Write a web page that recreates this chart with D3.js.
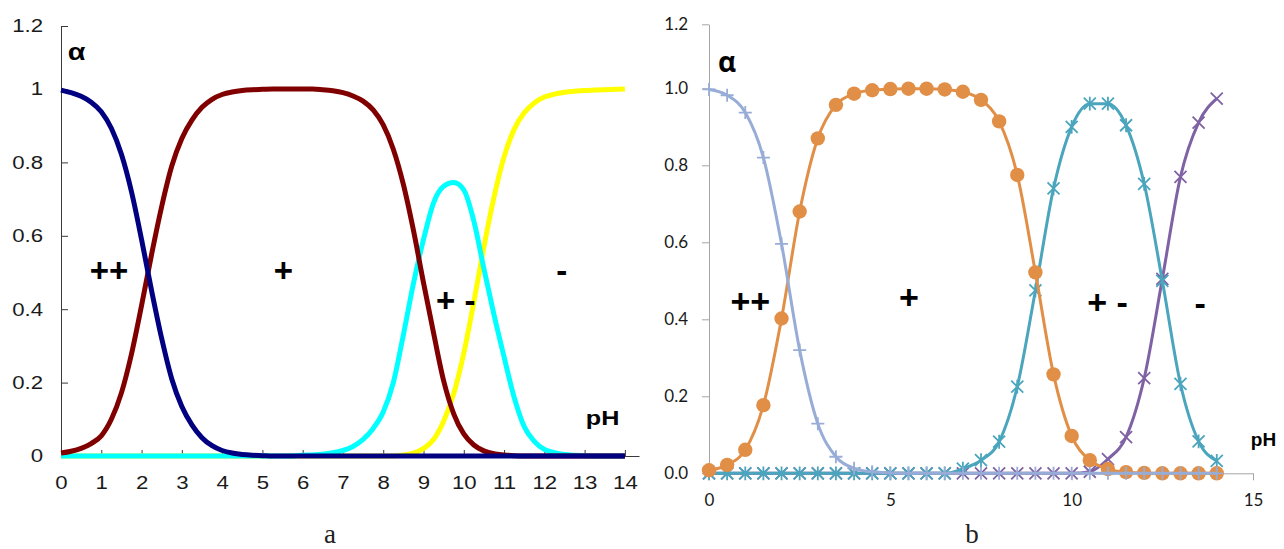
<!DOCTYPE html>
<html lang="en">
<head>
<meta charset="UTF-8">
<title>Species fractions vs pH</title>
<script src="https://d3js.org/d3.v7.min.js"></script>
<style>
  body { margin: 0; background: #fff; }
  svg { display: block; }
  .a-axis text { font-family: "Liberation Sans", Arial, sans-serif; font-size: 18.5px; fill: #1a1a1a; }
  .a-axis path, .a-axis line { stroke: #3a3a3a; }
  .b-axis text { font-family: Lato, "Open Sans", sans-serif; font-size: 17px; fill: #1a1a1a; }
  .b-axis path, .b-axis line { stroke: #a6a6a6; }
  .region { font-family: "Liberation Sans", Arial, sans-serif; font-weight: bold; fill: #000; }
  .caption { font-family: "Liberation Serif", "DejaVu Serif", serif; font-size: 27px; fill: #222; }
</style>
</head>
<body>
<script>
// ---- panel a: pH grid (0.25 step) and fractions
const pHA = [0, 0.25, 0.5, 0.75, 1, 1.25, 1.5, 1.75, 2, 2.25, 2.5, 2.75, 3, 3.25, 3.5, 3.75,
  4, 4.25, 4.5, 4.75, 5, 5.25, 5.5, 5.75, 6, 6.25, 6.5, 6.75, 7, 7.25, 7.5, 7.75,
  8, 8.25, 8.5, 8.75, 9, 9.25, 9.5, 9.75, 10, 10.25, 10.5, 10.75, 11, 11.25, 11.5, 11.75,
  12, 12.25, 12.5, 12.75, 13, 13.25, 13.5, 13.75, 14];
const dicationA = [0.997, 0.99, 0.98, 0.964, 0.938, 0.893, 0.822, 0.72, 0.59, 0.45, 0.32, 0.21,
  0.135, 0.085, 0.05, 0.028, 0.015, 0.008, 0.004, 0.002, 0.001,
  0, 0, 0, 0, 0, 0, 0, 0, 0, 0, 0, 0, 0, 0, 0, 0, 0, 0, 0, 0, 0, 0, 0, 0, 0, 0, 0, 0, 0, 0, 0, 0, 0, 0, 0, 0];
const cationA = [0.008, 0.013, 0.021, 0.034, 0.055, 0.1, 0.172, 0.278, 0.41, 0.55, 0.68, 0.79,
  0.865, 0.915, 0.95, 0.972, 0.985, 0.992, 0.996, 0.998, 0.999, 1, 1, 1, 1, 1, 0.998, 0.995,
  0.99, 0.981, 0.967, 0.943, 0.902, 0.836, 0.74, 0.615, 0.472, 0.335, 0.205, 0.115,
  0.06, 0.03, 0.014, 0.006, 0.003, 0.001, 0, 0, 0, 0, 0, 0, 0, 0, 0, 0, 0];
const zwitterA = [0, 0, 0, 0, 0, 0, 0, 0, 0, 0, 0, 0, 0, 0, 0, 0, 0, 0, 0, 0, 0, 0, 0, 0,
  0.002, 0.003, 0.005, 0.009, 0.015, 0.026, 0.045, 0.075, 0.12, 0.2, 0.33, 0.47, 0.59, 0.69,
  0.735, 0.745, 0.725, 0.64, 0.51, 0.385, 0.27, 0.16, 0.08, 0.04, 0.018, 0.009, 0.004, 0.002,
  0.001, 0, 0, 0, 0];
const anionA = [0, 0, 0, 0, 0, 0, 0, 0, 0, 0, 0, 0, 0, 0, 0, 0, 0, 0, 0, 0, 0, 0, 0, 0, 0, 0,
  0, 0, 0, 0, 0, 0, 0, 0,
  0.003, 0.008, 0.02, 0.045, 0.095, 0.17, 0.28, 0.42, 0.57, 0.705, 0.815, 0.89, 0.935, 0.962,
  0.978, 0.986, 0.991, 0.994, 0.996, 0.997, 0.998, 0.999, 1];

// ---- panel b: pH grid (0.5 step) and the plotted points
const pHB = [0, 0.5, 1, 1.5, 2, 2.5, 3, 3.5, 4, 4.5, 5, 5.5, 6, 6.5, 7, 7.5, 8, 8.5, 9, 9.5,
  10, 10.5, 11, 11.5, 12, 12.5, 13, 13.5, 14];
const dicationB = [0.997, 0.982, 0.937, 0.82, 0.596, 0.32, 0.129, 0.043, 0.013, 0.004, 0.001,
  0, 0, 0, 0, 0, 0, 0, 0, 0, 0, 0, 0, 0, 0, 0, 0, 0, 0];
const cationB = [0.008, 0.022, 0.061, 0.177, 0.402, 0.68, 0.87, 0.957, 0.986, 0.995, 0.998,
  0.999, 0.999, 0.997, 0.991, 0.97, 0.914, 0.775, 0.522, 0.257, 0.097, 0.034, 0.011, 0.003,
  0.001, 0, 0, 0, 0];
const zwitterB = [0, 0, 0, 0, 0, 0, 0, 0, 0, 0, 0, 0, 0, 0, 0.012, 0.034, 0.082, 0.225, 0.475,
  0.74, 0.9, 0.96, 0.96, 0.904, 0.752, 0.5, 0.232, 0.083, 0.032];
const anionB = [0, 0, 0, 0, 0, 0, 0, 0, 0, 0, 0, 0, 0, 0, 0, 0, 0, 0, 0, 0, 0, 0.004, 0.037,
  0.094, 0.247, 0.505, 0.77, 0.911, 0.973];

// tick values
const ticksAx = [0, 1, 2, 3, 4, 5, 6, 7, 8, 9, 10, 11, 12, 13, 14];
const ticksAy = [0, 0.2, 0.4, 0.6, 0.8, 1, 1.2];
const ticksBx = [0, 5, 10, 15];
const ticksBy = [0, 0.2, 0.4, 0.6, 0.8, 1.0, 1.2];

// charge labels (placed in data units)
const labelsA = [
  { t: '++', x: 1.19, y: 0.504 },
  { t: '+', x: 5.52, y: 0.504 },
  { t: '+ -', x: 9.8, y: 0.422 },
  { t: '-', x: 12.43, y: 0.504 }
];
const labelsB = [
  { t: '++', x: 1.14, y: 0.445 },
  { t: '+', x: 5.51, y: 0.455 },
  { t: '+ -', x: 10.99, y: 0.442 },
  { t: '-', x: 13.54, y: 0.44 }
];

const svg = d3.select('body').append('svg')
  .attr('width', 1284)
  .attr('height', 549);

// ================= panel a =================
const xA = d3.scaleLinear().domain([0, 14.35]).range([61, 639]);
const yA = d3.scaleLinear().domain([0, 1, 1.2]).range([456, 89, 26]);
const gA = svg.append('g');

gA.append('g')
  .attr('class', 'a-axis')
  .attr('transform', 'translate(0,456)')
  .call(d3.axisBottom(xA).tickValues(ticksAx).tickSizeInner(-6).tickSizeOuter(0).tickPadding(20).tickFormat(d3.format('d')))
  .call(g => g.selectAll('text').attr('transform', 'scale(1.2,1)'));

gA.append('g')
  .attr('class', 'a-axis')
  .attr('transform', 'translate(61,0)')
  .call(d3.axisLeft(yA).tickValues(ticksAy).tickSizeInner(-7).tickSizeOuter(0).tickPadding(15).tickFormat(d3.format('')))
  .call(g => g.selectAll('text').attr('transform', 'scale(1.2,1)'));

const lineA = d3.line().x(d => xA(d[0])).y(d => yA(d[1])).curve(d3.curveMonotoneX);
const seriesA = [
  { v: anionA, c: '#ffff00' },
  { v: zwitterA, c: '#00ffff' },
  { v: cationA, c: '#800000' },
  { v: dicationA, c: '#000080' }
];
seriesA.forEach(s => {
  gA.append('path')
    .datum(d3.zip(pHA, s.v))
    .attr('d', lineA)
    .attr('fill', 'none')
    .attr('stroke', s.c)
    .attr('stroke-width', 5)
    .attr('stroke-linejoin', 'round');
});

labelsA.forEach(l => {
  gA.append('text').attr('class', 'region')
    .attr('x', xA(l.x)).attr('y', yA(l.y) + 11)
    .attr('text-anchor', 'middle')
    .style('font-size', '33px')
    .text(l.t);
});

gA.append('text').attr('class', 'region')
  .attr('transform', `translate(${xA(0.17)},${yA(1.092)}) scale(1.2,1)`)
  .style('font-size', '24px')
  .text('α');
gA.append('text').attr('class', 'region')
  .attr('transform', `translate(${xA(13.03)},${yA(0.084)}) scale(1.2,1)`)
  .style('font-size', '21px')
  .text('pH');

// ================= panel b =================
const xB = d3.scaleLinear().domain([0, 15]).range([709, 1253]);
const yB = d3.scaleLinear().domain([0, 1, 1.2]).range([473.3, 88.3, 24.3]);
const gB = svg.append('g');

gB.append('g')
  .attr('class', 'b-axis')
  .attr('transform', 'translate(0,473.3)')
  .call(d3.axisBottom(xB).tickValues(ticksBx).tickSizeInner(7).tickSizeOuter(0).tickPadding(14).tickFormat(d3.format('d')));

gB.append('g')
  .attr('class', 'b-axis')
  .attr('transform', 'translate(709,0)')
  .call(d3.axisLeft(yB).tickValues(ticksBy).tickSizeInner(7).tickSizeOuter(0).tickPadding(14).tickFormat(d3.format('.1f')));

const lineB = d3.line().x(d => xB(d[0])).y(d => yB(d[1])).curve(d3.curveMonotoneX);

// marker outlines
const markerPath = {
  plus: r => `M${-r},0L${r},0M0,${-r}L0,${r}`,
  times: r => `M${-r},${-r}L${r},${r}M${-r},${r}L${r},${-r}`,
  star: r => `M${-r},${-r}L${r},${r}M${-r},${r}L${r},${-r}M0,${-r * 1.15}L0,${r * 1.15}`
};

const seriesB = [
  { v: anionB, c: '#7f62a4', m: 'times' },
  { v: zwitterB, c: '#4aa5bd', m: 'star' },
  { v: cationB, c: '#e18f47', m: 'circle' },
  { v: dicationB, c: '#97acd6', m: 'plus' }
];
seriesB.forEach(s => {
  const pts = d3.zip(pHB, s.v);
  const g = gB.append('g');
  g.append('path')
    .datum(pts)
    .attr('d', lineB)
    .attr('fill', 'none')
    .attr('stroke', s.c)
    .attr('stroke-width', 3)
    .attr('stroke-linejoin', 'round');
  if (s.m === 'circle') {
    g.selectAll('circle').data(pts).join('circle')
      .attr('cx', d => xB(d[0]))
      .attr('cy', d => yB(d[1]))
      .attr('r', 7.2)
      .attr('fill', s.c);
  } else {
    g.selectAll('path.mk').data(pts).join('path')
      .attr('class', 'mk')
      .attr('transform', d => `translate(${xB(d[0])},${yB(d[1])})`)
      .attr('d', markerPath[s.m](s.m === 'plus' ? 6.5 : 6))
      .attr('fill', 'none')
      .attr('stroke', s.c)
      .attr('stroke-width', 1.8);
  }
});

labelsB.forEach(l => {
  gB.append('text').attr('class', 'region')
    .attr('x', xB(l.x)).attr('y', yB(l.y) + 11)
    .attr('text-anchor', 'middle')
    .style('font-size', '34px')
    .text(l.t);
});

gB.append('text').attr('class', 'region')
  .attr('x', xB(0.25)).attr('y', yB(1.051))
  .style('font-family', '"Open Sans", sans-serif')
  .style('font-size', '28px')
  .text('α');
gB.append('text').attr('class', 'region')
  .attr('x', xB(14.94)).attr('y', yB(0.07))
  .style('font-size', '19px')
  .text('pH');

// panel captions
svg.append('text').attr('class', 'caption')
  .attr('x', 330).attr('y', 543).attr('text-anchor', 'middle').text('a');
svg.append('text').attr('class', 'caption')
  .attr('x', 972).attr('y', 543).attr('text-anchor', 'middle').text('b');
</script>
</body>
</html>
